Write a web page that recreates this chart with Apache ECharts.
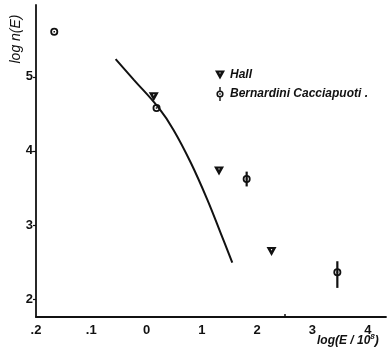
<!DOCTYPE html>
<html>
<head>
<meta charset="utf-8">
<script src="https://cdn.jsdelivr.net/npm/echarts@6/dist/echarts.min.js"></script>
<style>html,body{margin:0;padding:0;background:#fff}#c{width:387px;height:347px}</style>
</head>
<body>
<div id="c"></div>
<script>
// ---- data ----
var xTickValues = [-2, -1, 0, 1, 2, 3, 4];
var xTickLabels = ['.2', '.1', '0', '1', '2', '3', '4'];
var yTickValues = [2, 3, 4, 5];
var yTickLabels = ['2', '3', '4', '5'];

var hallX = [0.13, 1.31, 2.26];
var hallY = [4.73, 3.73, 2.64];

var bcX = [-1.67, 0.18, 1.81, 3.45];
var bcY = [5.61, 4.58, 3.62, 2.36];
var bcLow = [null, null, 3.52, 2.15];
var bcHigh = [null, null, 3.72, 2.51];

var curveX = [-0.56, -0.23, 0.22, 0.49, 0.80, 1.10, 1.34, 1.55];
var curveY = [5.24, 4.96, 4.58, 4.28, 3.84, 3.34, 2.89, 2.49];

var seriesNames = ['Hall', 'Bernardini Cacciapuoti .'];
// ------------------------------------

function zip(a, b) { return a.map(function (v, i) { return [v, b[i]]; }); }

var triPath = 'path://M0,0 L10,0 L5,9 Z M4.2,2 L5,3.6 L5.8,2 Z';
var ringPath = 'path://M1.4,7 A3.6,3.6 0 1 1 8.6,7 A3.6,3.6 0 1 1 1.4,7 Z ' +
  'M3,7 A2,2 0 1 0 7,7 A2,2 0 1 0 3,7 Z ' +
  'M4.3,6.3 L5.7,6.3 L5.7,7.7 L4.3,7.7 Z';
var ringBarPath = 'path://M1.4,7 A3.6,3.6 0 1 1 8.6,7 A3.6,3.6 0 1 1 1.4,7 Z ' +
  'M3,7 A2,2 0 1 0 7,7 A2,2 0 1 0 3,7 Z ' +
  'M4.3,6.3 L5.7,6.3 L5.7,7.7 L4.3,7.7 Z ' +
  'M4.3,0 L5.7,0 L5.7,3.6 L4.3,3.6 Z M4.3,10.4 L5.7,10.4 L5.7,14 L4.3,14 Z';

var errData = [];
bcX.forEach(function (x, i) { if (bcLow[i] != null) errData.push([x, bcLow[i], bcHigh[i]]); });

var chart = echarts.init(document.getElementById('c'), null, { renderer: 'canvas' });
var ink = '#111';
var labelFont = { color: ink, fontSize: 13, fontWeight: 'bold', fontFamily: 'Liberation Sans, Arial, sans-serif' };

chart.setOption({
  animation: false,
  backgroundColor: '#fff',
  grid: { left: 36, top: 5, right: 1, bottom: 30, containLabel: false },
  xAxis: {
    type: 'value', min: -2, max: 4.33,
    splitLine: { show: false },
    axisLine: { onZero: false, lineStyle: { color: ink, width: 1.8 } },
    axisTick: { show: true, inside: true, length: 3, customValues: [2.5], lineStyle: { color: ink, width: 1.5 } },
    axisLabel: Object.assign({
      margin: 7, customValues: xTickValues,
      formatter: function (v) { var i = xTickValues.indexOf(v); return i >= 0 ? xTickLabels[i] : ''; }
    }, labelFont)
  },
  yAxis: {
    type: 'value', min: 1.757, max: 5.97,
    splitLine: { show: false },
    axisLine: { onZero: false, lineStyle: { color: ink, width: 1.8 } },
    axisTick: { show: true, inside: false, length: 3, customValues: yTickValues, lineStyle: { color: ink, width: 1.2 } },
    axisLabel: Object.assign({
      margin: 3, customValues: yTickValues,
      formatter: function (v) { var i = yTickValues.indexOf(v); return i >= 0 ? yTickLabels[i] : ''; }
    }, labelFont)
  },
  legend: {
    orient: 'vertical', left: 210, top: 64,
    itemWidth: 10, itemHeight: 14, itemGap: 6,
    symbolKeepAspect: true,
    data: [
      { name: seriesNames[0], icon: triPath },
      { name: seriesNames[1], icon: ringBarPath }
    ],
    textStyle: { color: ink, fontSize: 12, fontStyle: 'italic', fontWeight: 'bold', fontFamily: 'Liberation Sans, Arial, sans-serif' }
  },
  graphic: [
    {
      type: 'text', x: 16, y: 39, rotation: Math.PI / 2,
      style: { text: 'log n(E)', fill: ink, font: 'italic 14px "Liberation Sans", Arial, sans-serif', align: 'center', verticalAlign: 'middle' }
    },
    {
      type: 'text', x: 317, y: 341,
      style: {
        text: 'log(E / 10{s|8})', fill: ink, font: 'italic bold 12px "Liberation Sans", Arial, sans-serif',
        verticalAlign: 'middle',
        rich: { s: { fontSize: 8, fontStyle: 'italic', fontWeight: 'bold', verticalAlign: 'top', padding: [0, 0, 8, 0], fill: ink } }
      }
    }
  ],
  series: [
    {
      name: 'curve', type: 'line', data: zip(curveX, curveY), smooth: 0.4,
      showSymbol: false, symbol: 'none', lineStyle: { color: ink, width: 2 }, z: 2, silent: true
    },
    {
      name: 'errors', type: 'custom', data: errData, z: 3, silent: true,
      renderItem: function (params, api) {
        var p1 = api.coord([api.value(0), api.value(1)]);
        var p2 = api.coord([api.value(0), api.value(2)]);
        return { type: 'line', shape: { x1: p1[0], y1: p1[1], x2: p2[0], y2: p2[1] }, style: { stroke: ink, lineWidth: 2.2 } };
      }
    },
    {
      name: seriesNames[0], type: 'scatter', data: zip(hallX, hallY), symbol: triPath,
      symbolSize: [10, 9], itemStyle: { color: ink, opacity: 1 }, z: 4
    },
    {
      name: seriesNames[1], type: 'scatter', data: zip(bcX, bcY), symbol: ringPath,
      symbolSize: [8, 8], itemStyle: { color: ink, opacity: 1 }, z: 5
    }
  ]
});
</script>
</body>
</html>
